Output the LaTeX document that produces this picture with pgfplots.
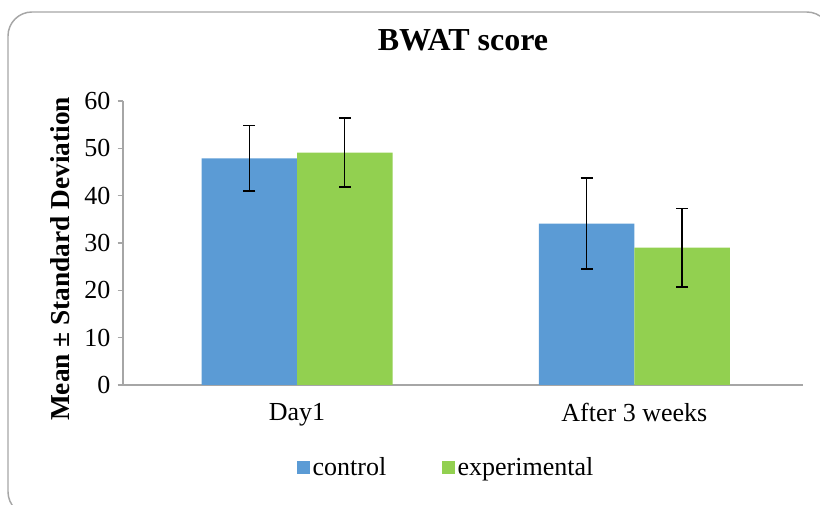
\documentclass[border=0pt]{standalone}
\usepackage{fontspec}
\setmainfont{Liberation Serif}
\usepackage{pgfplots}
\pgfplotsset{compat=1.18}

\definecolor{ctrl}{HTML}{5B9BD5}
\definecolor{expt}{HTML}{92D050}
\definecolor{frame}{HTML}{A6A6A6}

\begin{document}
\begin{tikzpicture}
% page: 820x505 px at 0.75pt per px
\useasboundingbox (0,0) rectangle (615pt,378.75pt);
\clip (0,0) rectangle (615pt,378.75pt);
\draw[frame, line width=1.1pt, rounded corners=18pt] (6pt,-8pt) rectangle (623pt,369.75pt);

\begin{axis}[
	at={(92.25pt,90pt)}, anchor=south west,
	scale only axis,
	width=510pt, height=213pt,
	font=\fontsize{19.5}{22}\selectfont,
	/pgf/number format/assume math mode=true,
	xmin=-0.516, xmax=1.5,
	ymin=0, ymax=60,
	ytick={0,10,...,60},
	xtick={0,1},
	xticklabels={Day1, After 3 weeks},
	axis x line*=bottom, axis y line*=left,
	axis line style={frame, line width=0.8pt},
	x axis line style={-}, y axis line style={-},
	ytick style={frame, line width=0.8pt},
	xtick style={draw=none},
	tick align=outside,
	major tick length=4pt,
	yticklabel style={xshift=-2pt},
	xticklabel style={yshift=-6pt},
	title={\bfseries BWAT score},
	title style={at={(0.5,1.187)}, anchor=center, font=\fontsize{24}{28}\selectfont},
	ylabel={\bfseries Mean ± Standard Deviation},
	ylabel style={at={(axis description cs:-0.092,0.444)}, anchor=center, rotate=0,
		font=\fontsize{20.5}{24}\selectfont},
	ybar, bar width=0.283,
	legend columns=2,
	legend style={at={(0.476,-0.292)}, anchor=center, draw=none, fill=none,
		/tikz/every even column/.append style={column sep=40pt}},
	legend image code/.code={\fill[#1] (0pt,-4.5pt) rectangle (9.5pt,5pt);},
	error bars/y dir=both,
	error bars/y explicit,
	error bars/error mark options={rotate=90, mark size=4.5pt, line width=1pt, black},
	error bars/error bar style={line width=1pt, black},
]
\addplot[fill=ctrl, draw=none, bar shift=-0.1415] coordinates {
	(0, 47.9) +- (0, 6.9)
	(1, 34.1) +- (0, 9.6)
};
\addplot[fill=expt, draw=none, bar shift=0.1415] coordinates {
	(0, 49.1) +- (0, 7.3)
	(1, 29.0) +- (0, 8.3)
};
\legend{control, experimental}
\end{axis}
\end{tikzpicture}
\end{document}
